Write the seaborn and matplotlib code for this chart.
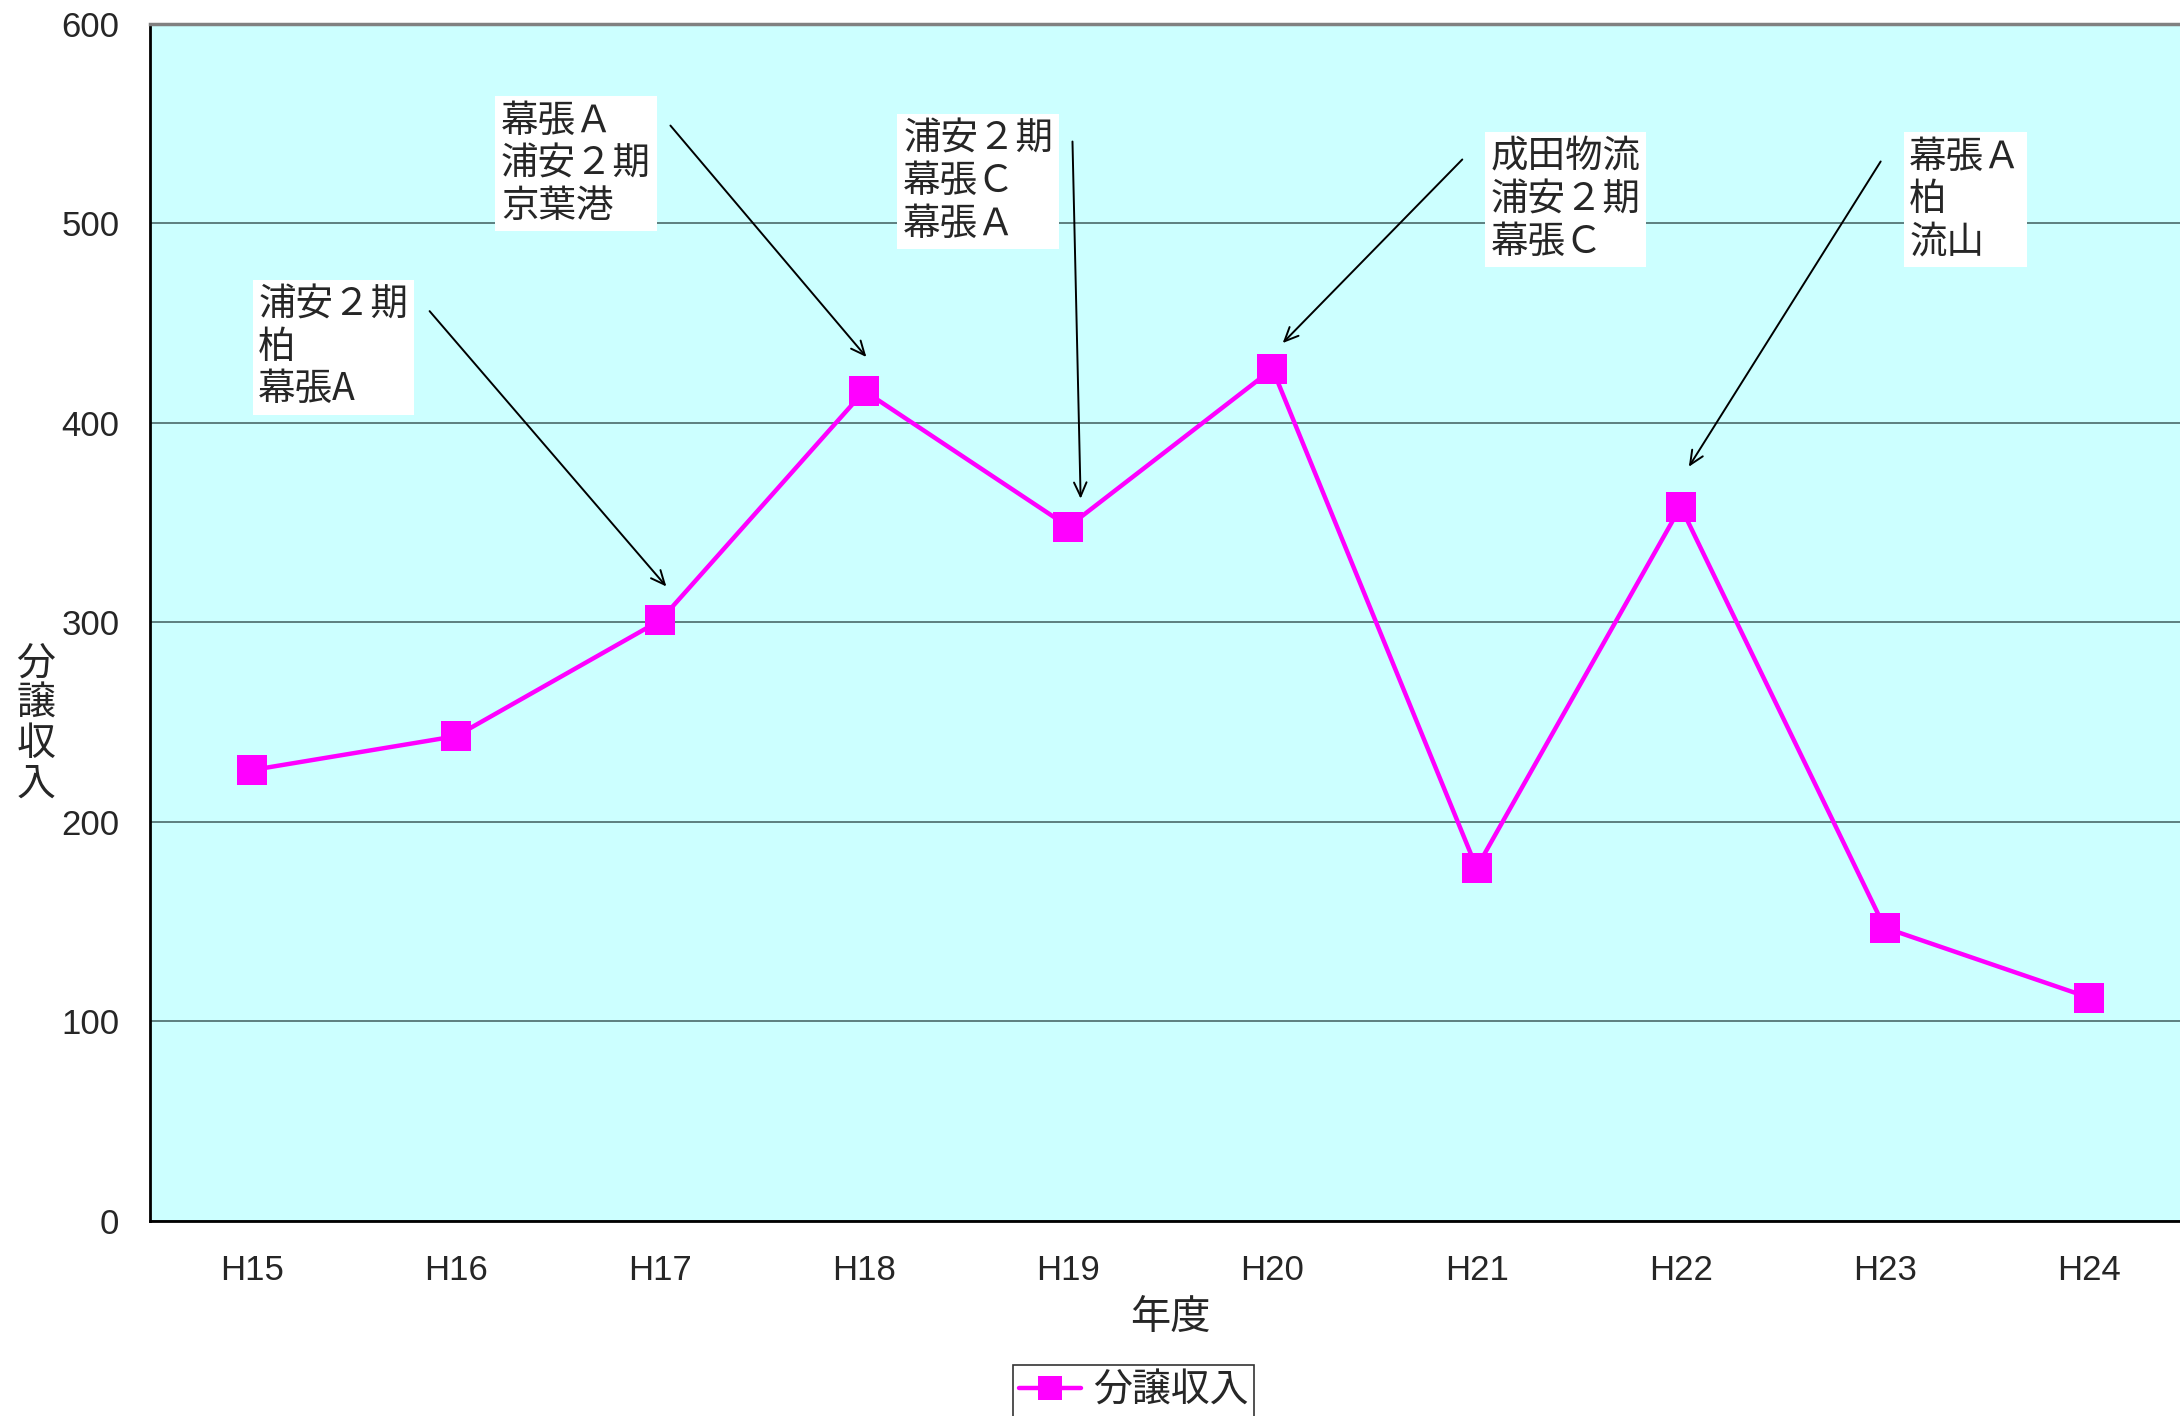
import seaborn as sns
import matplotlib.pyplot as plt
import pandas as pd

years = ["H15", "H16", "H17", "H18", "H19", "H20", "H21", "H22", "H23", "H24"]
income = [226, 243, 301, 416, 348, 427, 177, 358, 147, 112]
series_name = "分譲収入"

notes = ["浦安２期\n柏\n幕張A",
         "幕張Ａ\n浦安２期\n京葉港",
         "浦安２期\n幕張Ｃ\n幕張Ａ",
         "成田物流\n浦安２期\n幕張Ｃ",
         "幕張Ａ\n柏\n流山"]
note_pos = [(0.03, 469), (1.22, 561), (3.19, 552), (6.07, 543), (8.12, 543)]
arrow_tail = [(0.87, 456), (2.05, 549), (4.02, 541), (5.93, 532), (7.98, 531)]
arrow_head = [(2.03, 318), (3.01, 433), (4.06, 362), (5.05, 440), (7.04, 378)]

sns.set_style("white")
plt.rcParams['font.family'] = ['Noto Sans CJK JP', 'DejaVu Sans']
num_font = ['Liberation Sans Narrow', 'Liberation Sans', 'Noto Sans CJK JP']

df = pd.DataFrame({"year": years, "income": income})

fig = plt.figure(figsize=(21.8, 14.16), dpi=100)
# plot area runs a little past the right edge, as in the original
ax = fig.add_axes([0.0688, 0.1377, 0.9362, 0.8455])
ax.set_facecolor("#CCFFFF")

sns.lineplot(data=df, x="year", y="income", ax=ax, color="#FF00FF",
             linewidth=3.2, marker="s", markersize=21, markeredgewidth=0,
             label=series_name, legend=False)

ax.set_ylim(0, 600)
ax.set_xlim(-0.5, len(years) - 0.5)
ax.set_yticks(range(0, 601, 100))
ax.yaxis.grid(True, color="#3f5c5c", linewidth=1.1)
ax.set_axisbelow(True)
ax.set_xticks(range(len(years)))
ax.set_xticks([i + 0.5 for i in range(len(years) - 1)], minor=True)
ax.tick_params(axis="x", which="major", length=0, pad=24)
ax.tick_params(axis="x", which="minor", direction="in", length=12, width=1, color="black")
ax.tick_params(axis="y", direction="in", length=12, width=1, pad=22)
for lab in ax.get_xticklabels() + ax.get_yticklabels():
    lab.set_family(num_font)
    lab.set_fontsize(25)

for s in ["left", "bottom"]:
    ax.spines[s].set_color("black")
    ax.spines[s].set_linewidth(2)
ax.spines["top"].set_color("#808080")
ax.spines["top"].set_linewidth(2.5)
ax.spines["right"].set_visible(False)

ax.set_xlabel("年度", fontsize=29)
ax.xaxis.set_label_coords(0.5, -0.063)
ax.set_ylabel("")
fig.text(0.0165, 0.489, "分\n譲\n収\n入", fontsize=28, ha="center", va="center",
         linespacing=1.0)

for txt, pos in zip(notes, note_pos):
    ax.text(pos[0], pos[1], txt, fontsize=27, ha="left", va="top", linespacing=1.12,
            bbox=dict(boxstyle="square,pad=0.15", facecolor="white", edgecolor="none"))
for tail, head in zip(arrow_tail, arrow_head):
    ax.annotate("", xy=head, xytext=tail,
                arrowprops=dict(arrowstyle="->,head_length=1.0,head_width=0.45",
                                color="black", lw=1.4, shrinkA=0, shrinkB=0))

handles, labels = ax.get_legend_handles_labels()
leg = fig.legend(handles, labels, loc="lower center", bbox_to_anchor=(0.52, -0.002),
                 fontsize=28, frameon=True, fancybox=False, edgecolor="black",
                 handlelength=1.6, borderpad=0.15, handletextpad=0.3, markerscale=0.8,
                 borderaxespad=0.05)
leg.get_frame().set_linewidth(1.2)

fig.savefig("out.png", dpi=100)
